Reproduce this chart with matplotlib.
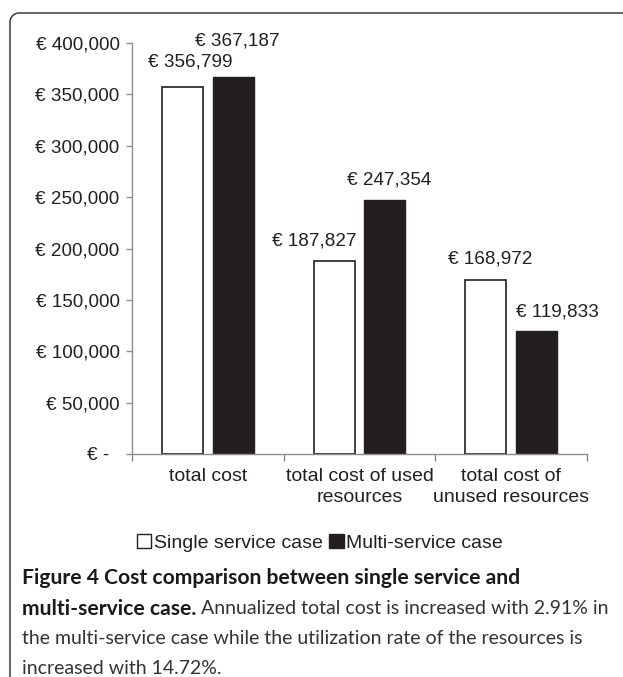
import matplotlib
matplotlib.use("Agg")
import matplotlib.pyplot as plt
import numpy as np
from matplotlib.patches import Patch
from matplotlib.lines import Line2D
from matplotlib.ticker import FuncFormatter

# data
categories = ["total cost", "total cost of used\nresources", "total cost of\nunused resources"]
single_service = [356799, 187827, 168972]
multi_service = [367187, 247354, 119833]
series_names = ["Single service case", "Multi-service case"]

W, H = 623, 677
fig = plt.figure(figsize=(W / 100, H / 100), dpi=100)
plt.rcParams["font.family"] = ["Liberation Sans", "DejaVu Sans"]
txt = "#231f20"
gray = "#8c8c8c"

# frame: top and left edges with a rounded corner (figure pixel coords)
r = 9
top, left = H - 13, 10
t = np.linspace(np.pi, np.pi / 2, 12)
fx = np.concatenate([[left], left + r + r * np.cos(t), [W + 5]])
fy = np.concatenate([[-5], top - r + r * np.sin(t), [top]])
fig.add_artist(Line2D(fx, fy, transform=None, color="#3a3a3a", lw=1.1))

ax = fig.add_axes([132 / W, 1 - 454 / H, 455 / W, 411 / H])
x = np.arange(len(categories))
bw = 0.27
b1 = ax.bar(x - 0.167, single_service, bw, color="white", edgecolor=txt, lw=1.2)
b2 = ax.bar(x + 0.167, multi_service, bw, color=txt, edgecolor=txt, lw=1.0)

ax.set_xlim(-0.5, 2.5)
ax.set_ylim(0, 400000)
ax.set_yticks(np.arange(0, 400001, 50000))
ax.yaxis.set_major_formatter(FuncFormatter(lambda v, p: "€ -  " if v == 0 else f"€ {v:,.0f}"))
for s in ["top", "right"]:
    ax.spines[s].set_visible(False)
for s in ["left", "bottom"]:
    ax.spines[s].set_color(gray)
    ax.spines[s].set_linewidth(1.0)

ax.set_xticks(x)
ax.set_xticklabels(categories, linespacing=1.3, va="top")
ax.set_xticks([-0.5, 0.5, 1.5, 2.5], minor=True)
ax.tick_params(axis="x", which="major", length=0, pad=10, labelsize=14, colors=txt)
ax.tick_params(axis="x", which="minor", length=5, color=gray, width=1.0, direction="out")
ax.tick_params(axis="y", length=4, color=gray, width=1.0, pad=5, labelsize=13.6, labelcolor=txt)

# value labels (pixel offsets above bar tops)
offs = [[(8, 25), (-20, 20), (4, 21)], [(4, 36), (4, 20), (21, 19)]]
for si, bars in enumerate([b1, b2]):
    vals = [single_service, multi_service][si]
    for i, rect in enumerate(bars):
        dx, dy = offs[si][i]
        ax.annotate(f"€ {vals[i]:,}", (rect.get_x() + rect.get_width() / 2, rect.get_height()),
                    xytext=(dx, dy), textcoords="offset pixels", ha="center", va="center",
                    fontsize=13.6, color=txt, annotation_clip=False)

handles = [Patch(facecolor="white", edgecolor=txt, lw=1.0), Patch(facecolor=txt, edgecolor=txt)]
fig.legend(handles, series_names, loc="center", bbox_to_anchor=(320 / W, 1 - 543 / H), ncol=2,
           frameon=False, fontsize=14, handlelength=0.75, handleheight=0.75,
           handletextpad=0.15, columnspacing=0.3, labelcolor=txt)

# caption
cap_font = ["Lato", "DejaVu Sans"]
bs, rs = 15.2, 14
fig.text(22 / W, 1 - 578 / H, "Figure 4 Cost comparison between single service and",
         fontsize=bs, fontweight="bold", family=cap_font, va="center", color="#1a1a1a")
t_b = fig.text(22 / W, 1 - 609 / H, "multi-service case.", fontsize=bs, fontweight="bold",
               family=cap_font, va="center", color="#1a1a1a")
fig.canvas.draw()
bb = t_b.get_window_extent()
fig.text((bb.x1 + 5) / W, 1 - 609 / H, "Annualized total cost is increased with 2.91% in",
         fontsize=rs, family=cap_font, va="center", color="#333333")
fig.text(22 / W, 1 - 639 / H, "the multi-service case while the utilization rate of the resources is",
         fontsize=rs, family=cap_font, va="center", color="#333333")
fig.text(22 / W, 1 - 668 / H, "increased with 14.72%.",
         fontsize=rs, family=cap_font, va="center", color="#333333")

fig.savefig("out.png", dpi=100)
